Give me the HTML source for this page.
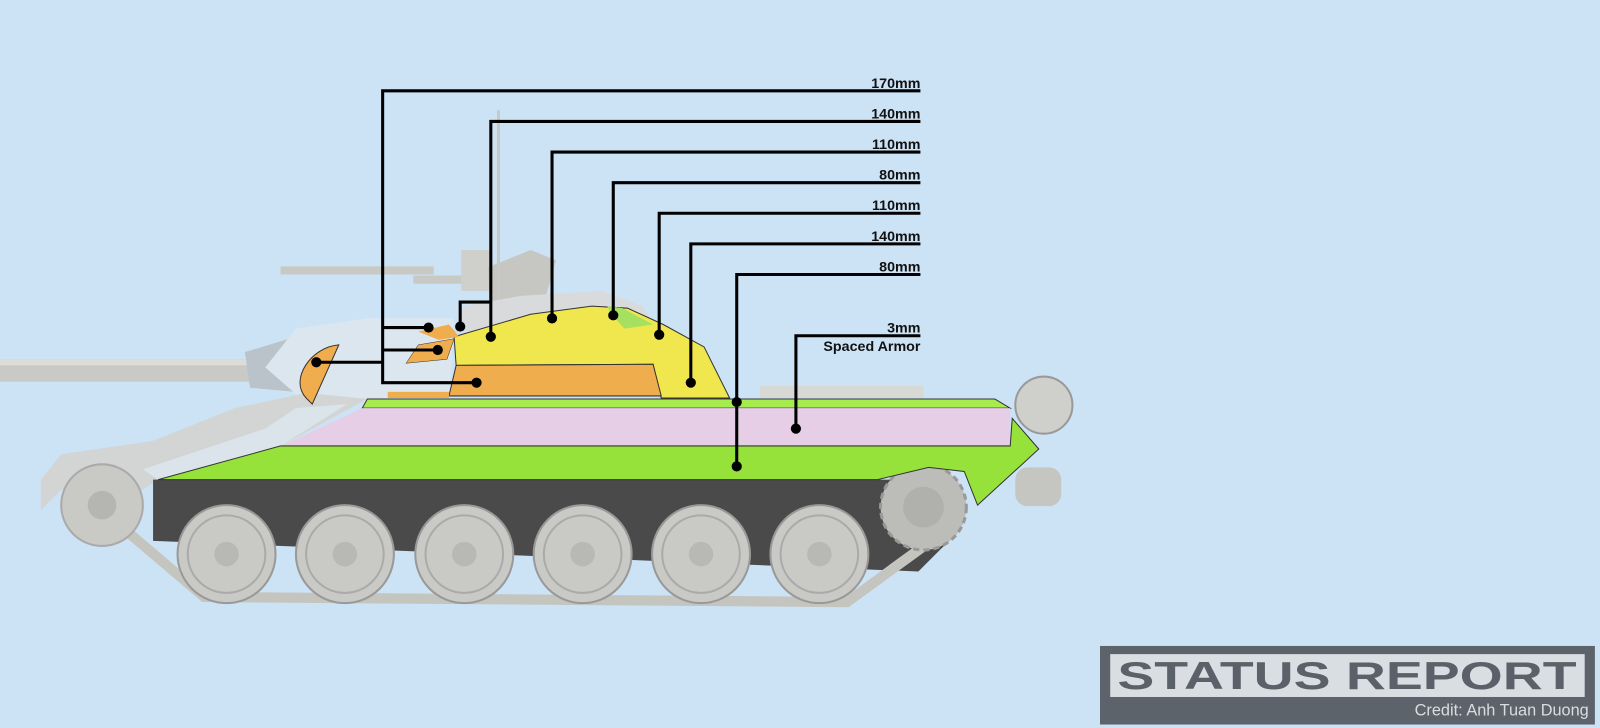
<!DOCTYPE html>
<html><head><meta charset="utf-8"><style>
html,body{margin:0;padding:0;background:#cce3f6;width:1600px;height:728px;overflow:hidden}
svg{display:block}
text{font-family:"Liberation Sans",Arial,sans-serif}
</style></head><body>
<svg width="1600" height="728" viewBox="0 0 1568 713.4" preserveAspectRatio="none">
<rect width="1568" height="714" fill="#cce3f6"/>
<!-- barrel -->
<rect x="0" y="352" width="255" height="22" fill="#c9c9c5"/>
<rect x="0" y="352" width="255" height="6" fill="#dcdcd8"/>
<path d="M240,345 L290,330 L300,385 L245,380 Z" fill="#b9c3c9"/>
<!-- turret gray body / mg -->
<rect x="275" y="261" width="150" height="8" fill="#c8c8c4"/>
<rect x="405" y="270" width="80" height="8" fill="#c8c8c4"/>
<rect x="452" y="245" width="30" height="40" fill="#cfcfcb"/>
<path d="M478,262 L520,245 L545,255 L535,290 L480,295 Z" fill="#c6c6c2"/>
<rect x="487" y="108" width="3" height="190" fill="#c8c8c4"/>
<path d="M455,300 L510,290 L590,285 L630,300 L640,318 L445,325 Z" fill="#d9dadb"/>
<path d="M290,322 L360,312 L445,312 L440,390 L300,395 L260,360 Z" fill="#dbe6ee"/>
<!-- hull front gray -->
<path d="M40,470 L60,445 L150,432 L230,400 L300,385 L360,391 L275,437 L155,470 L140,480 L60,480 L40,500 Z" fill="#d3d5d4"/>
<path d="M140,460 L260,420 L290,400 L340,396 L275,437 L155,470 Z" fill="#dbe4ea"/>
<!-- track dark -->
<path d="M150,470 L900,470 L940,520 L900,560 L150,530 Z" fill="#4a4a4a"/>
<!-- track outline -->
<path d="M100,500 L200,585 L830,590 L940,510" fill="none" stroke="#c5c5c0" stroke-width="10"/>
<circle cx="100" cy="495" r="40" fill="#c9c9c5" stroke="#aaa" stroke-width="2"/>
<circle cx="100" cy="495" r="14" fill="#b5b5b1"/>
<circle cx="905" cy="497" r="42" fill="#bcbcb8" stroke="#999" stroke-width="3" stroke-dasharray="6 4"/>
<circle cx="905" cy="497" r="20" fill="#b0b0ac"/>
<g fill="#c9c9c5" stroke="#999" stroke-width="2">
<circle cx="222" cy="543" r="48"/><circle cx="338" cy="543" r="48"/><circle cx="455" cy="543" r="48"/>
<circle cx="571" cy="543" r="48"/><circle cx="687" cy="543" r="48"/><circle cx="803" cy="543" r="48"/>
</g>
<g fill="none" stroke="#aaa" stroke-width="2">
<circle cx="222" cy="543" r="38"/><circle cx="338" cy="543" r="38"/><circle cx="455" cy="543" r="38"/>
<circle cx="571" cy="543" r="38"/><circle cx="687" cy="543" r="38"/><circle cx="803" cy="543" r="38"/>
</g>
<g fill="#b8b8b4">
<circle cx="222" cy="543" r="12"/><circle cx="338" cy="543" r="12"/><circle cx="455" cy="543" r="12"/>
<circle cx="571" cy="543" r="12"/><circle cx="687" cy="543" r="12"/><circle cx="803" cy="543" r="12"/>
</g>
<!-- rear -->
<circle cx="1023" cy="397" r="28" fill="#cfcfcb" stroke="#999" stroke-width="2"/>
<rect x="995" y="458" width="45" height="38" rx="12" fill="#c5c5c1"/>
<rect x="745" y="378" width="160" height="12" fill="#d8d8d4"/>
<!-- hull armor -->
<path d="M360,391 L975,391 L990,400 L355,400 Z" fill="#a7ec4d" stroke="#333" stroke-width="1"/>
<path d="M355,400 L990,400 L990,437 L275,437 Z" fill="#e6cfe6"/>
<path d="M155,470 L275,437 L990,437 L992,410 L1018,440 L958,495 L945,462 L910,458 L860,470 Z" fill="#96e23a" stroke="#333" stroke-width="1"/>
<!-- turret armor -->
<path d="M445,330 L520,308 L580,300 L615,302 L650,318 L690,340 L715,390 L648,390 L640,357 L447,358 Z" fill="#f0e64e" stroke="#333" stroke-width="1"/>
<path d="M440,388 L648,388 L640,357 L447,358 Z" fill="#f0ad4e" stroke="#333" stroke-width="1"/>
<path d="M595,300 L610,302 L640,318 L612,322 L598,307 Z" fill="#a6e060"/>
<path d="M398,356 L438,352 L445,332 L410,338 Z" fill="#f0ad4e" stroke="#333" stroke-width="0.5"/>
<path d="M410,325 L440,318 L450,330 L430,333 Z" fill="#f0ad4e"/>
<path d="M380,384 L440,384 L440,390 L380,390 Z" fill="#f0ad4e"/>
<path d="M332,338 C305,340 283,372 300,390 L306,396 Z" fill="#f0ad4e" stroke="#333" stroke-width="1"/>
<!-- leader lines -->
<g stroke="#000" stroke-width="3" fill="none">
<polyline points="902,89 375,89 375,375 467,375"/>
<line x1="375" y1="321" x2="420" y2="321"/>
<line x1="375" y1="343" x2="429" y2="343"/>
<line x1="310" y1="355" x2="375" y2="355"/>
<polyline points="902,119 481,119 481,330"/>
<polyline points="481,296 451,296 451,320"/>
<polyline points="902,149 541,149 541,312"/>
<polyline points="902,179 601,179 601,309"/>
<polyline points="902,209 646,209 646,328"/>
<polyline points="902,239 677,239 677,375"/>
<polyline points="902,269 722,269 722,457"/>
<polyline points="902,329 780,329 780,420"/>
</g>
<g fill="#000">
<circle cx="467" cy="375" r="5"/><circle cx="420" cy="321" r="5"/><circle cx="429" cy="343" r="5"/><circle cx="310" cy="355" r="5"/>
<circle cx="481" cy="330" r="5"/><circle cx="451" cy="320" r="5"/><circle cx="541" cy="312" r="5"/><circle cx="601" cy="309" r="5"/>
<circle cx="646" cy="328" r="5"/><circle cx="677" cy="375" r="5"/><circle cx="722" cy="394" r="5"/><circle cx="722" cy="457" r="5"/><circle cx="780" cy="420" r="5"/>
</g>
<g font-size="14" font-weight="bold" text-anchor="end" fill="#111">
<text x="902" y="86">170mm</text><text x="902" y="116">140mm</text><text x="902" y="146">110mm</text>
<text x="902" y="176">80mm</text><text x="902" y="206">110mm</text><text x="902" y="236">140mm</text>
<text x="902" y="266">80mm</text><text x="902" y="326">3mm</text><text x="902" y="344">Spaced Armor</text>
</g>
<!-- logo -->
<rect x="1078" y="633" width="485" height="77" fill="#5c636b"/>
<rect x="1088" y="641" width="465" height="42" fill="#d9dee3"/>
<text x="1320" y="675" text-anchor="middle" font-size="38" font-weight="bold" fill="#5a6168" textLength="450" lengthAdjust="spacingAndGlyphs">STATUS REPORT</text>
<text x="1557" y="701" text-anchor="end" font-size="16" fill="#d8dde2">Credit: Anh Tuan Duong</text>
</svg>
</body></html>
